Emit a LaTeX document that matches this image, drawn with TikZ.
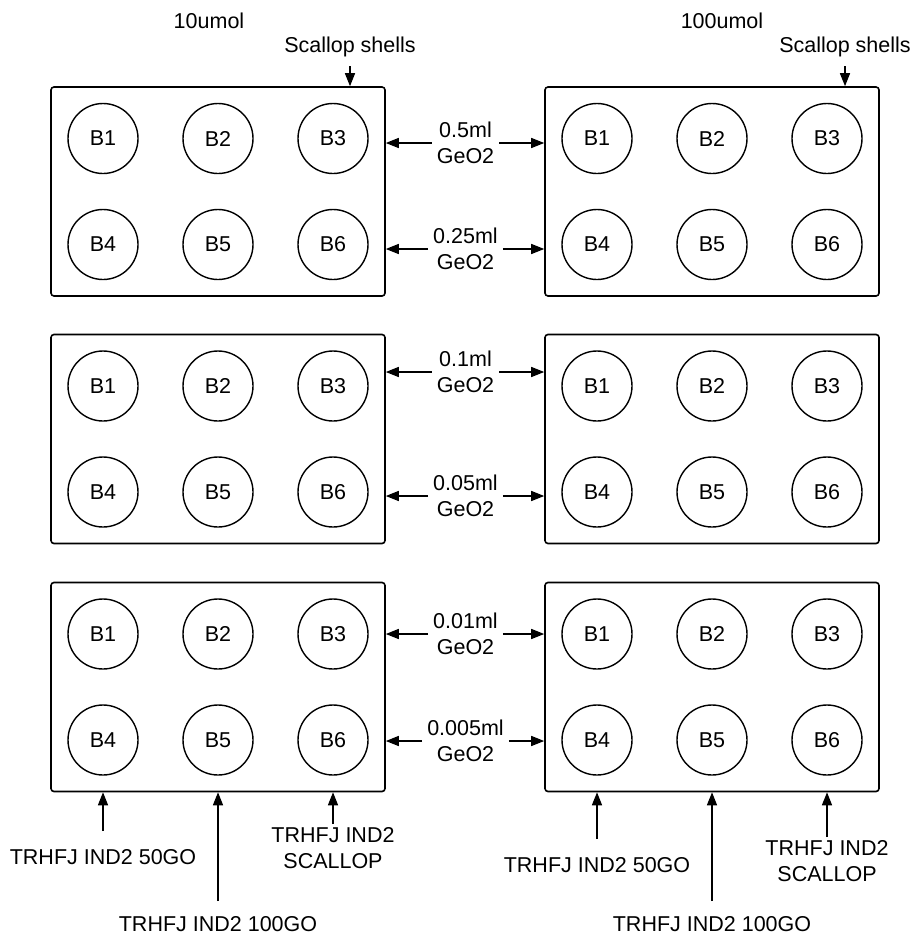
\documentclass[tikz,border=0pt]{standalone}
\usepackage{fontspec}
\setmainfont{Liberation Sans}
\usetikzlibrary{arrows.meta}
\newcommand{\lblfont}{\fontsize{21.5}{26}\selectfont}

\begin{document}
\begin{tikzpicture}[x=1pt,y=-1pt,
  plate/.style={draw,rounded corners=3pt,line width=1.6pt,
    minimum width=334pt,minimum height=209pt,inner sep=0pt},
  well/.style={draw,circle,line width=1.4pt,minimum size=70pt,
    inner sep=0pt,font=\lblfont},
  lbl/.style={font=\lblfont,align=center,inner sep=5pt},
  arr/.style={-{Triangle[length=13pt,width=10pt]},line width=1.4pt}]
  \useasboundingbox (0,0) rectangle (914,937);

  %plates with wells B1..B6
  \foreach \p/\y in {1/191.5,2/439,3/687} {
   \foreach \s/\x in {L/218,R/712} {
    \node[plate] (\s\p) at (\x,\y) {};
    \foreach \n/\dx/\dy in {1/-115/-53,2/0/-53,3/115/-53,4/-115/53,5/0/53,6/115/53}
      \node[well] (\s\p-B\n) at (\x+\dx,\y+\dy) {B\n};
  } }

  %concentrations
  \node[lbl] (concL) at (209,21) {10umol};
  \node[lbl] (concR) at (722,21) {100umol};

  %scallop shells
  \node[lbl,inner sep=3pt] (shellL) at (350,47) {Scallop shells};
  \node[lbl,inner sep=3pt] (shellR) at (845,47) {Scallop shells};
  \draw[arr,shorten <=6pt] (shellL.south) -- (shellL.south |- L1.north);
  \draw[arr,shorten <=6pt] (shellR.south) -- (shellR.south |- R1.north);

  %GeO2 volumes between the two sides
  \foreach \n/\p/\y/\t in {d1/1/143/0.5ml,d2/1/249/0.25ml,d3/2/372/0.1ml,
                           d4/2/496/0.05ml,d5/3/634/0.01ml,d6/3/741/0.005ml} {
    \node[lbl] (\n) at (465.5,\y) {\t\\GeO2};
    \draw[arr] (\n.west) -- (\n.west -| L\p.east);
    \draw[arr] (\n.east) -- (\n.east -| R\p.west);
  }

  %samples below
  \node[lbl,inner sep=3pt] (goL) at (103,857) {TRHFJ IND2 50GO};
  \node[lbl,inner sep=3pt] (gooL) at (218,924) {TRHFJ IND2 100GO};
  \node[lbl,inner sep=3pt] (scL) at (333,848) {TRHFJ IND2\\SCALLOP};
  \node[lbl,inner sep=3pt] (goR) at (597,865) {TRHFJ IND2 50GO};
  \node[lbl,inner sep=3pt] (gooR) at (712,924) {TRHFJ IND2 100GO};
  \node[lbl,inner sep=3pt] (scR) at (827,861) {TRHFJ IND2\\SCALLOP};
  \draw[arr,shorten <=15pt] (goL.north) -- (goL.north |- L3.south);
  \draw[arr,shorten <=12pt] (gooL.north) -- (gooL.north |- L3.south);
  \draw[arr] (scL.north) -- (scL.north |- L3.south);
  \draw[arr,shorten <=15pt] (goR.north) -- (goR.north |- R3.south);
  \draw[arr,shorten <=12pt] (gooR.north) -- (gooR.north |- R3.south);
  \draw[arr] (scR.north) -- (scR.north |- R3.south);
\end{tikzpicture}
\end{document}
